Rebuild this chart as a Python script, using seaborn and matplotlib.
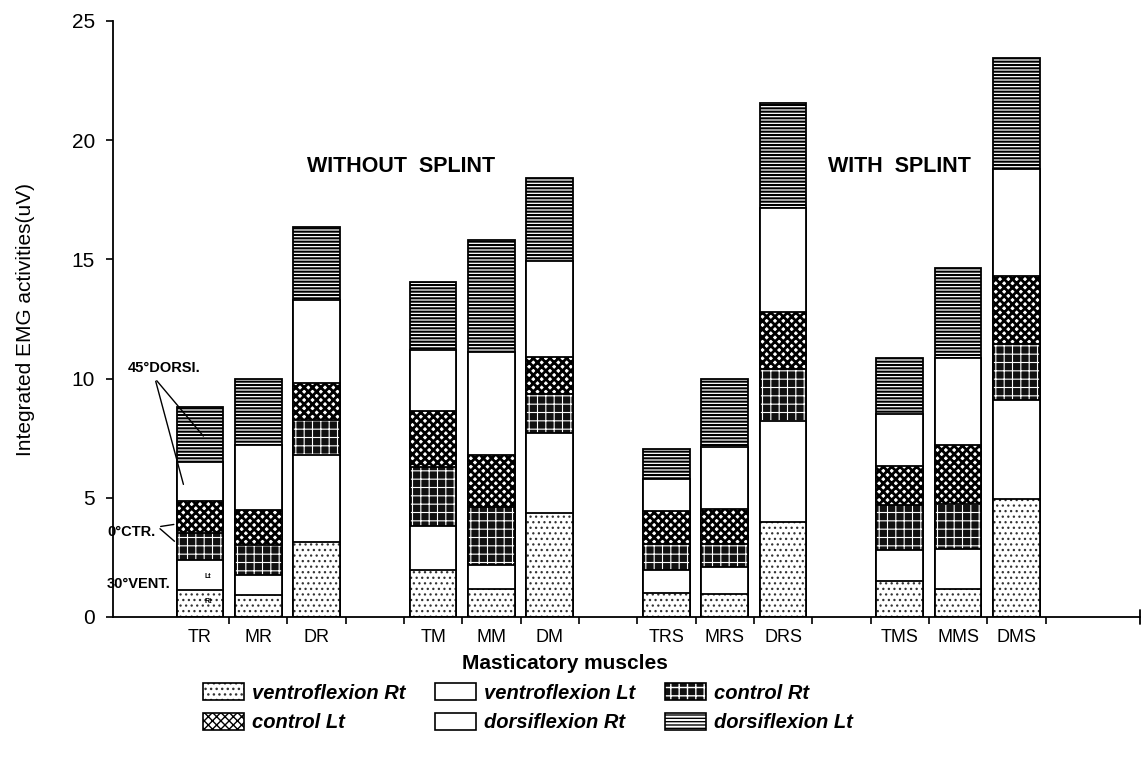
import matplotlib
matplotlib.use("Agg")
import matplotlib.pyplot as plt
import numpy as np
import pandas as pd
import seaborn as sns
from matplotlib.colors import to_rgba
from matplotlib.patches import Patch

# Masticatory muscles (R = rest, M = maximal clench, S = with splint)
muscles = ["TR", "MR", "DR", "TM", "MM", "DM",
           "TRS", "MRS", "DRS", "TMS", "MMS", "DMS"]
# slot index on the x axis (gaps between the four groups)
slots = [0, 1, 2, 4, 5, 6, 8, 9, 10, 12, 13, 14]

# Integrated EMG activity (uV) of each stacked component
ventro_rt = [1.13, 0.92, 3.16, 1.97, 1.16, 4.35, 0.99, 0.95, 4.00, 1.50, 1.17, 4.93]
ventro_lt = [1.26, 0.84, 3.64, 1.85, 1.02, 3.36, 1.00, 1.14, 4.22, 1.30, 1.68, 4.17]
control_rt = [1.12, 1.26, 1.46, 2.48, 2.45, 1.64, 1.08, 0.98, 2.18, 1.90, 1.90, 2.35]
control_lt = [1.36, 1.47, 1.54, 2.35, 2.17, 1.54, 1.38, 1.48, 2.40, 1.65, 2.45, 2.85]
dorsi_rt = [1.62, 2.72, 3.50, 2.55, 4.33, 4.06, 1.33, 2.59, 4.35, 2.15, 3.65, 4.50]
dorsi_lt = [2.31, 2.79, 3.05, 2.85, 4.67, 3.45, 1.27, 2.86, 4.40, 2.35, 3.80, 4.65]

series_names = ["ventroflexion Rt", "ventroflexion Lt", "control Rt",
                "control Lt", "dorsiflexion Rt", "dorsiflexion Lt"]
layers = [ventro_rt, ventro_lt, control_rt, control_lt, dorsi_rt, dorsi_lt]

# fill / hatch for each component
styles = [
    dict(face="white", hatch="...", hcolor="#333333", hlw=0.9),
    dict(face="white", hatch="", hcolor="black", hlw=1.0),
    dict(face="#111111", hatch="++", hcolor="white", hlw=0.8),
    dict(face="white", hatch="xxxx", hcolor="black", hlw=2.0),
    dict(face="white", hatch="", hcolor="black", hlw=1.0),
    dict(face="white", hatch="-----", hcolor="black", hlw=1.5),
]


def apply_style(p, st, lw=1.3):
    p.set_facecolor(st["face"])
    p.set_edgecolor("black")
    p.set_linewidth(lw)
    p.set_hatch(st["hatch"] or None)
    hc = to_rgba(st["hcolor"])
    if hasattr(p, "set_hatchcolor"):
        p.set_hatchcolor(hc)
    else:
        p._hatch_color = hc
    if hasattr(p, "set_hatch_linewidth"):
        p.set_hatch_linewidth(st["hlw"])
    else:
        p._hatch_linewidth = st["hlw"]


sns.set_theme(style="ticks", rc={
    "axes.edgecolor": "black", "text.color": "black",
    "axes.labelcolor": "black", "xtick.color": "black",
    "ytick.color": "black", "axes.linewidth": 1.3,
})
plt.rcParams["font.family"] = ["Liberation Sans", "DejaVu Sans"]

fig = plt.figure(figsize=(11.46, 7.7), dpi=100)
ax = fig.add_axes([113 / 1146, 153 / 770, 1027 / 1146, 596 / 770])

values = np.array(layers)
cumulative = np.cumsum(values, axis=0)

# stacked bars: draw cumulative totals from the top component downwards
for k in reversed(range(len(layers))):
    df = pd.DataFrame({"slot": slots, "total": cumulative[k]})
    n_before = len(ax.patches)
    sns.barplot(data=df, x="slot", y="total", native_scale=True, width=0.8,
                color="white", edgecolor="black", linewidth=1.3,
                errorbar=None, ax=ax)
    for p in ax.patches[n_before:]:
        apply_style(p, styles[k])

ax.set_xlim(-1.49, 16.12)
ax.set_ylim(0, 25)
sns.despine(ax=ax)

ax.set_xticks(slots)
ax.set_xticklabels(muscles)
edges = sorted({s + d for s in slots for d in (-0.5, 0.5)} - {-0.5})
ax.set_xticks(edges, minor=True)
ax.tick_params(axis="x", which="major", length=0, pad=9, labelsize=13)
ax.tick_params(axis="x", which="minor", length=5, width=1.2, direction="out")
ax.plot([1, 1], [-0.012, 0.012], transform=ax.transAxes, color="black",
        lw=1.3, clip_on=False)

ax.set_yticks(range(0, 26, 5))
ax.tick_params(axis="y", length=5, width=1.2, pad=8, labelsize=15)
ax.set_ylabel("Integrated EMG activities(uV)", fontsize=15, labelpad=26)
ax.set_xlabel("Masticatory muscles", fontsize=15, fontweight="bold")
ax.xaxis.set_label_coords(0.44, -0.062)

# group titles
ax.text(3.45, 18.9, "WITHOUT  SPLINT", ha="center", va="center",
        fontsize=15.5, fontweight="bold")
ax.text(12.0, 18.9, "WITH  SPLINT", ha="center", va="center",
        fontsize=15.5, fontweight="bold")

# position notes on the first bar
note = dict(fontsize=10.5, fontweight="bold", ha="center", va="center")
ax.text(-0.62, 10.45, "45°DORSI.", **note)
ax.text(-1.17, 3.57, "0°CTR.", **note)
ax.text(-1.05, 1.38, "30°VENT.", **note)
for end in [(0.09, 7.5), (-0.27, 5.45)]:
    ax.annotate("", xy=end, xytext=(-0.77, 10.0),
                arrowprops=dict(arrowstyle="-", lw=1.0, color="black"))
for end in [(-0.4, 3.9), (-0.4, 3.1)]:
    ax.annotate("", xy=end, xytext=(-0.72, 3.78),
                arrowprops=dict(arrowstyle="-", lw=1.0, color="black"))
ax.text(0.14, 1.68, "Lt", fontsize=5, fontweight="bold", ha="center", va="center")
ax.text(0.14, 0.67, "Rt", fontsize=5, fontweight="bold", ha="center", va="center")

# legend: 3 columns, filled row by row
handles = []
for st, name in zip(styles, series_names):
    h = Patch(label=name)
    apply_style(h, st, lw=1.2)
    handles.append(h)
order = [0, 3, 1, 4, 2, 5]
fig.legend([handles[i] for i in order], [series_names[i] for i in order],
           ncol=3, loc="upper left", bbox_to_anchor=(203 / 1146, (770 - 683) / 770),
           frameon=False, prop=dict(size=14.5, weight="bold", style="italic"),
           handlelength=2.05, handleheight=0.95, handletextpad=0.4,
           columnspacing=1.45, labelspacing=0.5, borderpad=0, borderaxespad=0)

fig.savefig("out.png", dpi=100)
